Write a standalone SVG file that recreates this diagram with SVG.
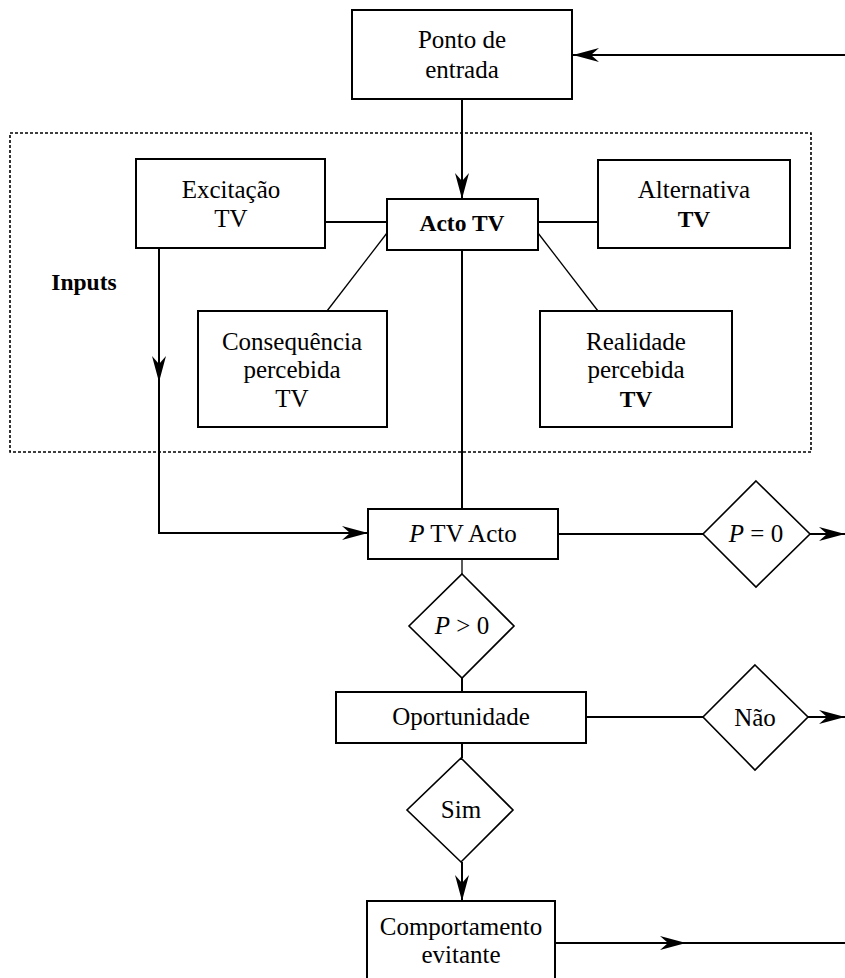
<svg xmlns="http://www.w3.org/2000/svg" width="845" height="978" viewBox="0 0 845 978">
  <style>
    .box { fill: #fff; stroke: #000; stroke-width: 2; }
    .dia { fill: #fff; stroke: #000; stroke-width: 1.6; }
    .ln { fill: none; stroke: #000; stroke-width: 2; }
    .thin { fill: none; stroke: #000; stroke-width: 1.3; }
    .frame { fill: none; stroke: #000; stroke-width: 1.6; stroke-dasharray: 3 2; }
    text { font-family: "Liberation Serif", "Times New Roman", serif; font-size: 25px; fill: #000; text-anchor: middle; }
    .b { font-weight: bold; font-size: 23.5px; }
    .i { font-style: italic; }
  </style>
  <defs>
    <marker id="arrow" viewBox="-26 -8 28 16" refX="0" refY="0" markerWidth="28" markerHeight="16" markerUnits="userSpaceOnUse" orient="auto">
      <path d="M0,0 L-26,-7 L-18,0 L-26,7 Z" fill="#000"/>
    </marker>
  </defs>

  <!-- Inputs frame -->
  <rect class="frame" x="10" y="133" width="801" height="319"/>
  <text class="b" x="84" y="290">Inputs</text>

  <!-- Connectors -->
  <g id="connectors">
    <path class="ln" d="M845,55 L573,55" marker-end="url(#arrow)"/>
    <path class="ln" d="M462,99 L462,199" marker-end="url(#arrow)"/>
    <path class="ln" d="M325,222 L387,222"/>
    <path class="ln" d="M538,222 L598,222"/>
    <path class="thin" d="M387,233 L327,311"/>
    <path class="thin" d="M538,233 L598,311"/>
    <path class="ln" d="M462,250 L462,509"/>
    <path class="ln" d="M159,248 L159,382" marker-end="url(#arrow)"/>
    <path class="ln" d="M159,380 L159,533 L368,533" marker-end="url(#arrow)"/>
    <path class="ln" d="M558,534 L703,534"/>
    <path class="ln" d="M810,534 L845,534" marker-end="url(#arrow)"/>
    <path class="thin" d="M462,559 L462,574"/>
    <path class="ln" d="M462,678 L462,692"/>
    <path class="ln" d="M586,717 L703,717"/>
    <path class="ln" d="M808,717 L845,717" marker-end="url(#arrow)"/>
    <path class="ln" d="M462,743 L462,758"/>
    <path class="ln" d="M462,862 L462,901" marker-end="url(#arrow)"/>
    <path class="ln" d="M555,943 L686,943" marker-end="url(#arrow)"/>
    <path class="ln" d="M684,943 L845,943"/>
  </g>

  <g id="ponto-entrada">
    <rect class="box" x="352" y="10" width="220" height="89"/>
    <text x="462" y="48">Ponto de</text>
    <text x="462" y="78">entrada</text>
  </g>

  <g id="excitacao">
    <rect class="box" x="136" y="159" width="189" height="89"/>
    <text x="231" y="198">Excitação</text>
    <text x="231" y="227">TV</text>
  </g>

  <g id="acto-tv">
    <rect class="box" x="387" y="199" width="151" height="51"/>
    <text class="b" x="462" y="231">Acto TV</text>
  </g>

  <g id="alternativa">
    <rect class="box" x="598" y="160" width="192" height="88"/>
    <text x="694" y="198">Alternativa</text>
    <text class="b" x="694" y="227">TV</text>
  </g>

  <g id="consequencia">
    <rect class="box" x="198" y="311" width="189" height="116"/>
    <text x="292" y="350">Consequência</text>
    <text x="292" y="378">percebida</text>
    <text x="292" y="407">TV</text>
  </g>

  <g id="realidade">
    <rect class="box" x="540" y="311" width="192" height="116"/>
    <text x="636" y="350">Realidade</text>
    <text x="636" y="378">percebida</text>
    <text class="b" x="636" y="407">TV</text>
  </g>

  <g id="p-tv-acto">
    <rect class="box" x="368" y="509" width="190" height="50"/>
    <text x="463" y="542"><tspan class="i">P</tspan> TV Acto</text>
  </g>

  <g id="p-igual-0">
    <polygon class="dia" points="756,481 810,534 756,587 703,534"/>
    <text x="756" y="542"><tspan class="i">P</tspan> = 0</text>
  </g>

  <g id="p-maior-0">
    <polygon class="dia" points="462,574 514,626 462,678 409,626"/>
    <text x="462" y="634"><tspan class="i">P</tspan> &gt; 0</text>
  </g>

  <g id="oportunidade">
    <rect class="box" x="336" y="692" width="250" height="51"/>
    <text x="461" y="725">Oportunidade</text>
  </g>

  <g id="nao">
    <polygon class="dia" points="755,665 808,717 755,770 703,717"/>
    <text x="755" y="726">Não</text>
  </g>

  <g id="sim">
    <polygon class="dia" points="461,758 513,810 461,862 407,810"/>
    <text x="461" y="818">Sim</text>
  </g>

  <g id="comportamento">
    <rect class="box" x="367" y="901" width="188" height="90"/>
    <text x="461" y="935">Comportamento</text>
    <text x="461" y="963">evitante</text>
  </g>
</svg>
